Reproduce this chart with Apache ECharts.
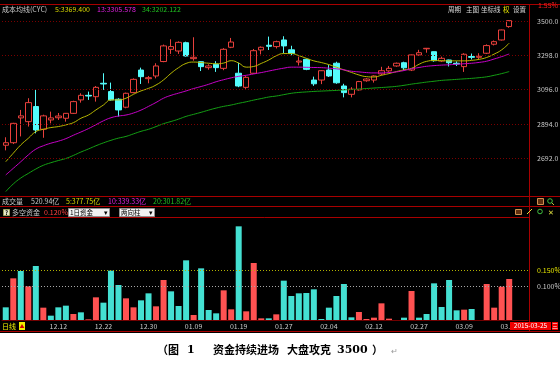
<!DOCTYPE html>
<html><head><meta charset="utf-8">
<script src="https://cdn.jsdelivr.net/npm/echarts@6/dist/echarts.min.js"></script>
<style>html,body{margin:0;padding:0;background:#fff;}#c{width:560px;height:369px;}</style>
</head><body><div id="c"></div>
<script>
// ---- data ----
const dates = ['12.03','12.04','12.05','12.08','12.09','12.10','12.11','12.12','12.15','12.16','12.17','12.18','12.19','12.22','12.23','12.24','12.25','12.26','12.29','12.30','12.31','01.05','01.06','01.07','01.08','01.09','01.12','01.13','01.14','01.15','01.16','01.19','01.20','01.21','01.22','01.23','01.26','01.27','01.28','01.29','01.30','02.02','02.03','02.04','02.05','02.06','02.09','02.10','02.11','02.12','02.13','02.16','02.17','02.25','02.26','02.27','03.02','03.03','03.04','03.05','03.06','03.09','03.10','03.11','03.12','03.13','03.16','03.17'];
const opens = [2768,2783,2929,2907,2996,2862,2917,2930,2927,2956,3035,3062,3054,3133,3084,3039,2992,3078,3211,3160,3176,3261,3333,3323,3372,3278,3260,3225,3245,3221,3345,3192,3109,3192,3329,3357,3349,3388,3330,3258,3274,3152,3152,3211,3251,3117,3068,3094,3148,3152,3188,3206,3235,3254,3211,3300,3336,3319,3264,3270,3251,3231,3290,3286,3310,3363,3388,3467];
const closes = [2783,2897,2941,3019,2858,2941,2929,2940,2956,3025,3062,3058,3109,3129,3035,2976,3074,3156,3172,3166,3235,3353,3349,3374,3294,3286,3231,3235,3225,3333,3376,3117,3168,3325,3345,3351,3378,3353,3308,3264,3215,3130,3207,3176,3136,3078,3098,3143,3158,3176,3207,3221,3251,3224,3300,3313,3339,3266,3280,3254,3246,3304,3286,3292,3355,3378,3447,3502];
const lows = [2738,2775,2820,2878,2838,2812,2897,2917,2907,2952,3019,3035,3025,3094,3031,2937,2986,3074,3129,3133,3162,3257,3306,3306,3290,3266,3205,3213,3200,3210,3340,3110,3100,3188,3303,3329,3338,3310,3298,3238,3210,3118,3128,3170,3130,3050,3050,3090,3142,3137,3180,3200,3230,3210,3205,3295,3313,3260,3258,3232,3235,3200,3273,3276,3305,3356,3385,3460];
const highs = [2815,2900,2976,3045,3094,2948,2966,2958,2958,3030,3074,3084,3117,3192,3137,3045,3078,3162,3225,3176,3251,3361,3392,3380,3378,3404,3262,3245,3263,3340,3400,3254,3175,3335,3350,3408,3384,3410,3354,3290,3278,3172,3210,3240,3260,3130,3110,3147,3163,3180,3230,3235,3255,3260,3302,3330,3341,3320,3290,3272,3262,3310,3308,3310,3362,3385,3449,3505];
const ma5 = [2671,2721,2770,2809,2848,2862,2872,2878,2888,2901,2927,2946,2976,3005,3035,3035,3045,3068,3088,3103,3123,3153,3192,3225,3250,3258,3255,3251,3248,3252,3266,3252,3228,3232,3250,3270,3295,3308,3308,3296,3280,3265,3255,3243,3228,3212,3197,3182,3172,3170,3180,3190,3202,3212,3221,3245,3262,3267,3266,3265,3265,3265,3268,3274,3285,3305,3330,3369.4];
const ma13 = [2593,2632,2671,2711,2745,2765,2780,2792,2807,2827,2846,2866,2889,2912,2930,2940,2946,2958,2975,2997,3020,3045,3062,3075,3088,3102,3114,3127,3142,3154,3165,3174,3180,3188,3196,3205,3214,3222,3228,3228,3227,3226,3225,3222,3218,3212,3204,3200,3196,3194,3194,3196,3200,3208,3218,3226,3233,3237,3240,3242,3245,3248,3251,3256,3263,3276,3290,3305.578];
const ma34 = [2495,2540,2575,2602,2628,2650,2665,2678,2690,2708,2728,2746,2765,2782,2797,2810,2820,2835,2850,2862,2878,2895,2908,2922,2938,2950,2962,2975,2987,2997,3005,3015,3024,3034,3043,3052,3058,3066,3074,3079,3082,3085,3087,3089,3091,3094,3096,3099,3102,3105,3108,3111,3115,3121,3128,3134,3140,3145,3150,3153,3156,3159,3162,3166,3171,3180,3190,3202.122];
// money flow (%), positive = red (inflow), negative = cyan (outflow)
const flow = [-0.038,0.125,-0.147,0.101,-0.162,0.037,-0.013,-0.038,-0.043,0.018,-0.023,0.002,0.068,-0.052,-0.148,-0.105,0.065,0.038,-0.059,-0.080,0.041,0.120,-0.086,-0.042,-0.179,0.015,-0.155,-0.030,-0.020,0.089,0.032,-0.281,0.026,0.171,0.005,-0.005,0.017,-0.118,-0.072,-0.080,-0.081,-0.092,-0.003,-0.037,-0.072,-0.108,-0.008,0.024,0.003,0.007,0.050,0.004,0,-0.007,0.087,-0.007,-0.018,-0.110,-0.039,-0.120,-0.029,0.031,-0.033,0,0.108,0.037,0.100,0.123];
const priceTicks = [2692, 2894, 3096, 3298, 3500];
const lastPriceTag = 2598.8;
const flowTicks = [0.15, 0.1, 0];
const padCats = ['', ''];

// ---- styles ----
const FONT = '"Noto Sans CJK SC", "Liberation Sans", sans-serif';
const FRAME = '#a80000';
const GREY = '#c8c8c8';
const UP = '#e8403c', DOWN = '#54fcfc';
const BAR_UP = '#ff5252', BAR_DOWN = '#44e0d2';

const cats = dates.concat(padCats);
const chart = echarts.init(document.getElementById('c'));

const G = [];
function line(x1,y1,x2,y2,c){G.push({type:'line',silent:true,z:50,shape:{x1,y1,x2,y2},style:{stroke:c,lineWidth:1}});}
function text(x,y,s,fill,size,align,weight,fam,z){
  size=size||7; align=align||'left'; weight=weight||'normal'; fam=fam||FONT; z=z||60;
  G.push({type:'text',silent:true,z:z,x:x,y:y,style:{text:s,fill:fill,font:weight+' '+size+'px '+fam,textAlign:align,textVerticalAlign:'middle',align:align,verticalAlign:'middle'}});
}
function rect(x,y,w,h,fill,stroke,z){G.push({type:'rect',silent:true,z:z||55,shape:{x,y,width:w,height:h},style:{fill:fill,stroke:stroke||null,lineWidth:stroke?1:0}});}

// white area for caption
rect(0,333,560,36,'#ffffff',null,40);
// frame
line(0,4.5,560,4.5,FRAME);
line(529.5,4,529.5,332,FRAME);
line(0,196.5,560,196.5,FRAME);
line(0,206.5,560,206.5,FRAME);
line(0,217.5,529.5,217.5,FRAME);
line(0,331.5,560,331.5,FRAME);
// title row
text(2,9,'成本均线(CYC)',GREY);
text(55,9,'5:'+ma5[ma5.length-1].toFixed(3),'#d8d800');
text(97,9,'13:'+ma13[ma13.length-1].toFixed(3),'#e020e0');
text(142,9,'34:'+ma34[ma34.length-1].toFixed(3),'#20c020');
text(448,9.5,'周期','#d8d8d8',6.5);
text(466,9.5,'主图','#d8d8d8',6.5);
text(481,9.5,'坐标线','#d8d8d8',6.5);
text(503,9.5,'权','#e8e800',6.5);
text(513,9.5,'设置','#d8d8d8',6.5);
text(538,5,'1.55%','#ff2020',7);
// volume header row
text(2,201.5,'成交量',GREY);
text(31,201.5,'520.94亿',GREY);
text(66,201.5,'5:377.75亿','#d8d800');
text(108,201.5,'10:339.33亿','#e020e0');
text(153,201.5,'20:301.82亿','#20c020');
rect(537.5,198.5,6,6,'#603010','#d09050');
G.push({type:'circle',silent:true,z:55,shape:{cx:550,cy:201,r:2.3},style:{fill:null,stroke:'#40c040',lineWidth:1}});
line(551.5,202.5,554,205,'#c0c040');
// money-flow header row
rect(3.5,209.5,6,6,'#e8e8c8','#a0a060');
text(6.5,212.5,'?','#000',6,'center','bold');
text(12,212,'多空资金',GREY);
text(44,212,'0.120%','#ff4040');
rect(68.5,208.5,41,8,'#f2f2f2','#909090');
text(70,212.5,'1日资金','#000',6.5);
text(105.5,212.5,'▾','#000',7,'center');
rect(119.5,208.5,35,8,'#f2f2f2','#909090');
text(121,212.5,'两向柱','#000',6.5);
text(150.5,212.5,'▾','#000',7,'center');
rect(515.5,209.5,6,5,'#603010','#d09050');
line(527,214,532,209,'#e0e040');
G.push({type:'circle',silent:true,z:55,shape:{cx:540,cy:211.5,r:2.3},style:{fill:null,stroke:'#40c040',lineWidth:1}});
text(551,212,'✕','#e0e040',7,'center');
// bottom row
text(2,326,'日线','#f0f000');
rect(19,322,6,8,'#f0f000');
text(22,326.5,'▲','#d00000',5,'center');
rect(510,322,41,8,'#f00000',null,100);
text(530.5,326,'2015-03-25','#ffffff',6.5,'center','normal',FONT,101);
rect(552,322,6,8,'#f00000',null,100);
text(555,326,'三','#ffffff',6,'center','normal',FONT,101);
// caption
const CAP = '"Noto Sans CJK SC", sans-serif';
text(157,350,'（图','#000',11,'left','bold',CAP);
text(187,350,'1','#000',11,'left','bold','"DejaVu Serif"');
text(213,350,'资金持续进场','#000',11,'left','bold',CAP);
text(287,350,'大盘攻克','#000',11,'left','bold',CAP);
text(337,350,'3500','#000',11,'left','bold','"DejaVu Serif"');
text(372,350,'）','#000',11,'left','bold',CAP);
text(391,351,'↵','#999',8);

const lblFont = {fontSize:7, fontFamily:FONT};

const option = {
  backgroundColor:'#000',
  animation:false,
  grid:[
    {left:2, top:14, width:526, height:181, outerBoundsMode:'none'},
    {left:2, top:222, width:526, height:98, outerBoundsMode:'none'}
  ],
  xAxis:[
    {type:'category', gridIndex:0, data:cats, boundaryGap:true, show:false},
    {type:'category', gridIndex:1, data:cats, boundaryGap:true,
     axisLine:{show:true, lineStyle:{color:'#700000'}}, axisTick:{show:false}, splitLine:{show:false},
     axisLabel:Object.assign({color:GREY, margin:3, hideOverlap:false,
       interval:function(i){return i>=7 && i<dates.length && (i-7)%6===0;}}, lblFont)}
  ],
  yAxis:[
    {type:'value', gridIndex:0, min:2475, max:3541, show:false},
    {type:'value', gridIndex:1, min:0, max:0.294, show:false}
  ],
  series:[
    {type:'candlestick', xAxisIndex:0, yAxisIndex:0, barWidth:6,
     data:dates.map((d,i)=>[opens[i],closes[i],lows[i],highs[i]]),
     itemStyle:{color:'#000', color0:DOWN, borderColor:UP, borderColor0:DOWN, borderWidth:1},
     emphasis:{disabled:true},
     markLine:{silent:true, symbol:['none','none'], animation:false,
       lineStyle:{color:'#7a0000', type:[1,2], width:1},
       label:Object.assign({position:'end', distance:9, color:GREY, formatter:p=>Number(p.value).toFixed(1)}, lblFont),
       emphasis:{disabled:true},
       data:priceTicks.map(v=>({yAxis:v})).concat([{yAxis:lastPriceTag, lineStyle:{opacity:0},
         label:{distance:1, backgroundColor:'#ff1010', color:'#fff', padding:[1,3,0,3]}}])
     }},
    {type:'line', xAxisIndex:0, yAxisIndex:0, data:ma5, smooth:true, symbol:'none', lineStyle:{color:'#b8b800', width:1}, emphasis:{disabled:true}},
    {type:'line', xAxisIndex:0, yAxisIndex:0, data:ma13, smooth:true, symbol:'none', lineStyle:{color:'#c800c8', width:1}, emphasis:{disabled:true}},
    {type:'line', xAxisIndex:0, yAxisIndex:0, data:ma34, smooth:true, symbol:'none', lineStyle:{color:'#14a014', width:1}, emphasis:{disabled:true}},
    {type:'bar', xAxisIndex:1, yAxisIndex:1, barWidth:6,
     data:flow.map(v=>({value:Math.abs(v), itemStyle:{color: v>0 ? BAR_UP : BAR_DOWN}})),
     emphasis:{disabled:true},
     markLine:{silent:true, symbol:['none','none'], animation:false,
       label:Object.assign({position:'end', distance:9, formatter:p=>Number(p.value).toFixed(3)+'%'}, lblFont),
       emphasis:{disabled:true},
       data:[
         {yAxis:flowTicks[0], lineStyle:{color:'#b0b000', type:[1,2], width:1}, label:{color:'#e0e000'}},
         {yAxis:flowTicks[1], lineStyle:{color:'#a8a8a8', type:[1,2], width:1}, label:{color:GREY}},
         {yAxis:flowTicks[2], lineStyle:{opacity:0}, label:{color:GREY}}
       ]}}
  ],
  graphic:{elements:G}
};
chart.setOption(option);
</script></body></html>
